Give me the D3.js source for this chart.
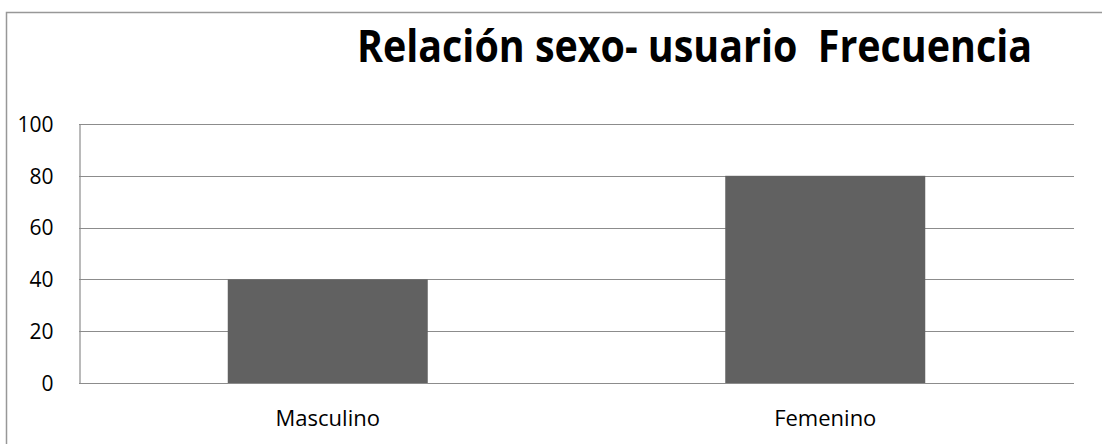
<!DOCTYPE html>
<html>
<head>
<meta charset="utf-8">
<script src="https://cdn.jsdelivr.net/npm/d3@7"></script>
<style>
  body { margin: 0; background: #fff; }
  svg { display: block; }
  text { font-family: "Open Sans", sans-serif; fill: #000; }
</style>
</head>
<body>
<svg width="1102" height="444"></svg>
<script>
var categories = ["Masculino", "Femenino"];
var frecuencia = [40, 80];
var yTicks = [0, 20, 40, 60, 80, 100];
var titulo = "Relación sexo- usuario\u00a0\u00a0Frecuencia";

var svg = d3.select("svg"),
    width = +svg.attr("width"),
    height = +svg.attr("height");

var plotLeft = 79, plotRight = 1074, plotTop = 124, plotBottom = 383;

// chart frame (cut off at right / bottom like the original)
svg.append("rect")
    .attr("x", 6.5).attr("y", 12.5)
    .attr("width", width + 10).attr("height", height + 10)
    .attr("fill", "none")
    .attr("stroke", "#989898")
    .attr("stroke-width", 1.5);

var x = d3.scaleBand()
    .domain(categories)
    .range([plotLeft, plotRight])
    .paddingInner(0.598)
    .paddingOuter(0.299);

var y = d3.scaleLinear()
    .domain([0, 100])
    .range([plotBottom, plotTop]);

// gridlines
svg.append("g")
  .selectAll("line")
  .data(yTicks)
  .enter().append("line")
    .attr("x1", plotLeft).attr("x2", plotRight)
    .attr("y1", function(d) { return Math.round(y(d)) + 0.5; })
    .attr("y2", function(d) { return Math.round(y(d)) + 0.5; })
    .attr("stroke", "#8c8c8c")
    .attr("stroke-width", 1.2);

// y axis
var yAxis = svg.append("g")
    .attr("transform", "translate(" + (plotLeft + 0.5) + ",0)")
    .call(d3.axisLeft(y).tickValues(yTicks).tickSize(0).tickPadding(26));
yAxis.select(".domain").attr("stroke", "#8c8c8c").attr("stroke-width", 1.2);
yAxis.selectAll("text")
    .style("font-size", "21px")
    .attr("dy", "0.35em");

// bars
svg.append("g")
  .selectAll("rect")
  .data(frecuencia)
  .enter().append("rect")
    .attr("x", function(d, i) { return x(categories[i]); })
    .attr("y", function(d) { return y(d); })
    .attr("width", x.bandwidth())
    .attr("height", function(d) { return y(0) - y(d); })
    .attr("fill", "#616161");

// x axis
var xAxis = svg.append("g")
    .attr("transform", "translate(0," + (plotBottom + 0.5) + ")")
    .call(d3.axisBottom(x).tickSize(0).tickPadding(27));
xAxis.select(".domain").remove();
xAxis.selectAll("text")
    .style("font-size", "22px");

// title
svg.append("text")
    .attr("x", 357)
    .attr("y", 62)
    .attr("textLength", 675)
    .attr("lengthAdjust", "spacingAndGlyphs")
    .style("font-size", "45px")
    .style("font-weight", "bold")
    .text(titulo);
</script>
</body>
</html>
